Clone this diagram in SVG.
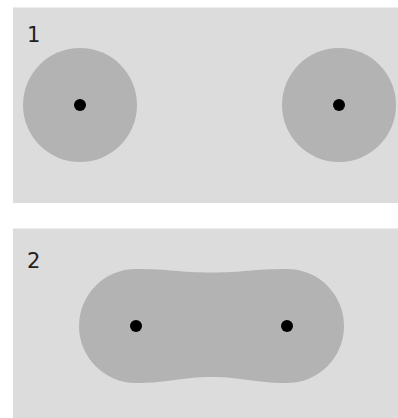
<svg xmlns="http://www.w3.org/2000/svg" width="398" height="418" viewBox="0 0 398 418">
<style>
.panel{fill:#dcdcdc}
.area{fill:#b3b3b3}
.dot{fill:#000}
.lbl{font-family:"DejaVu Sans",Verdana,sans-serif;font-size:21px;fill:#222}
</style>
<rect width="398" height="418" fill="#fff"/>
<g id="panel1">
<rect class="panel" x="13" y="7.5" width="385" height="195.5"/>
<text class="lbl" x="27" y="41.5">1</text>
<g id="left-circle">
<circle class="area" cx="80" cy="105" r="57"/>
<circle class="dot" cx="80" cy="105" r="6"/>
</g>
<g id="right-circle">
<circle class="area" cx="339" cy="105" r="57"/>
<circle class="dot" cx="339" cy="105" r="6"/>
</g>
</g>
<g id="panel2">
<rect class="panel" x="13" y="228.5" width="385" height="189.5"/>
<text class="lbl" x="27" y="267.5">2</text>
<g id="merged">
<path class="area" d="M136,269 C170,269 180,272.5 211.5,272.5 C243,272.5 253,269 287,269 A57,57 0 0 1 287,383 C253,383 243,377 211.5,377 C180,377 170,383 136,383 A57,57 0 0 1 136,269 Z"/>
<circle class="dot" cx="136" cy="326" r="6"/>
<circle class="dot" cx="287" cy="326" r="6"/>
</g>
</g>
<g id="connectors"/>
</svg>
